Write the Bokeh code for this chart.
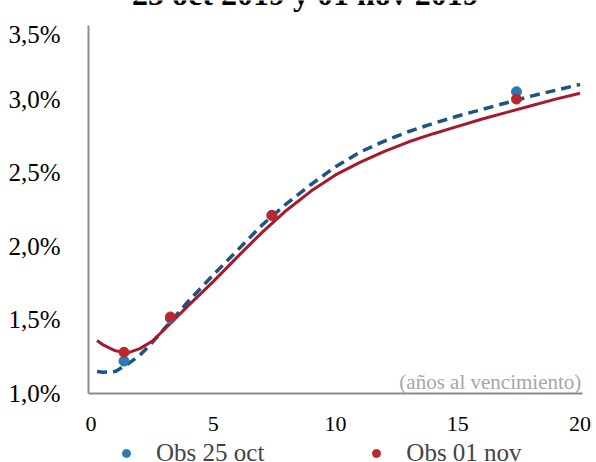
from bokeh.plotting import figure
from bokeh.layouts import column
from bokeh.models import Range1d, FixedTicker, Legend, LegendItem, Label
from bokeh.embed import file_html
from bokeh.resources import INLINE

# Data (years to maturity, yield %)
curve_x = [0.25, 0.5, 1, 1.5, 2, 2.5, 3, 4, 5, 6, 7, 8, 9, 10, 11, 12, 13, 14, 15, 16, 17, 18, 19, 20]
curve_25oct = [1.15, 1.145, 1.15, 1.20, 1.26, 1.345, 1.44, 1.63, 1.805, 1.975, 2.145, 2.29, 2.42, 2.54, 2.64, 2.715, 2.78, 2.835, 2.885, 2.93, 2.975, 3.02, 3.06, 3.10]
curve_01nov = [1.36, 1.33, 1.29, 1.276, 1.305, 1.355, 1.435, 1.60, 1.76, 1.93, 2.095, 2.245, 2.375, 2.485, 2.57, 2.645, 2.71, 2.765, 2.815, 2.865, 2.91, 2.955, 3.00, 3.04]

obs_x = [1.35, 3.25, 7.4, 17.4]
obs_25oct = [1.22, 1.51, 2.21, 3.05]
obs_01nov = [1.28, 1.52, 2.21, 3.00]

y_ticks = [1.0, 1.5, 2.0, 2.5, 3.0, 3.5]
y_tick_labels = ["1,0%", "1,5%", "2,0%", "2,5%", "3,0%", "3,5%"]
x_ticks = [0, 5, 10, 15, 20]

title_text = "25 oct 2019 y 01 nov 2019"
axis_note = "(años al vencimiento)"
series_names = ["Obs 25 oct", "Obs 01 nov"]

FONT = "Liberation Serif"
BLUE_LINE = "#1b5583"
RED_LINE = "#a6192e"
BLUE_DOT = "#2a7ab8"
RED_DOT = "#b8282e"
X_RANGE = (-0.1, 20.1)


def strip(height, y_range):
    f = figure(width=596, height=height, output_backend="svg", toolbar_location=None,
               x_range=Range1d(*X_RANGE), y_range=Range1d(*y_range),
               x_axis_location=None, y_axis_location=None, min_border=0)
    f.outline_line_color = None
    f.grid.grid_line_color = None
    return f


# --- title strip (the reference shows only the bottom of the title) ---
pt = strip(20, (0, 1))
pt.add_layout(Label(x=8.77, y=0.75, y_offset=12, text=title_text, text_font=FONT,
                    text_font_size="32px", text_font_style="bold", text_color="black",
                    text_align="center", text_baseline="alphabetic"))

# --- main chart ---
p = figure(width=596, height=420, output_backend="svg", toolbar_location=None,
           x_range=Range1d(*X_RANGE), y_range=Range1d(1.0, 3.5),
           min_border_left=88, min_border_right=14, min_border_top=5, min_border_bottom=47)
p.outline_line_color = None
p.grid.grid_line_color = None

for ax in (p.xaxis[0], p.yaxis[0]):
    ax.axis_line_color = "#8c8c8c"
    ax.axis_line_width = 2
    ax.major_tick_line_color = None
    ax.minor_tick_line_color = None
    ax.major_label_text_font = FONT
    ax.major_label_text_color = "black"

p.yaxis.ticker = FixedTicker(ticks=y_ticks)
p.yaxis.major_label_overrides = {t: l for t, l in zip(y_ticks, y_tick_labels)}
p.yaxis.major_label_text_font_size = "25px"
p.yaxis.major_label_standoff = 22
p.xaxis.ticker = FixedTicker(ticks=x_ticks)
p.xaxis.major_label_text_font_size = "22px"
p.xaxis.major_label_standoff = 17

p.line(curve_x, curve_25oct, line_color=BLUE_LINE, line_width=3.5, line_dash="10 6")
p.line(curve_x, curve_01nov, line_color=RED_LINE, line_width=3)
p.scatter(obs_x, obs_25oct, size=10, fill_color=BLUE_DOT, line_color=BLUE_DOT)
p.scatter(obs_x, obs_01nov, size=10, fill_color=RED_DOT, line_color=RED_DOT)

p.add_layout(Label(x=20.05, y=1.08, text=axis_note, text_font=FONT, text_font_size="21px",
                   text_color="#a6a6a6", text_align="right", text_baseline="middle"))

# --- legend strip (its renderers hold the observations, far outside the strip's y range) ---
pl = strip(22, (100, 101))
lb = pl.scatter(obs_x, obs_25oct, size=10, fill_color=BLUE_DOT, line_color=BLUE_DOT)
lr = pl.scatter(obs_x, obs_01nov, size=10, fill_color=RED_DOT, line_color=RED_DOT)
legend = Legend(items=[LegendItem(label=series_names[0], renderers=[lb]),
                       LegendItem(label=series_names[1], renderers=[lr])],
                orientation="horizontal", location=(28, -5),
                label_text_font=FONT, label_text_font_size="25px",
                glyph_width=20, glyph_height=20, label_standoff=20, spacing=102,
                padding=0, margin=0, border_line_color=None, background_fill_alpha=0)
pl.add_layout(legend, "center")

layout = column(pt, p, pl, spacing=0)
open("out.html", "w").write(file_html(layout, INLINE))
